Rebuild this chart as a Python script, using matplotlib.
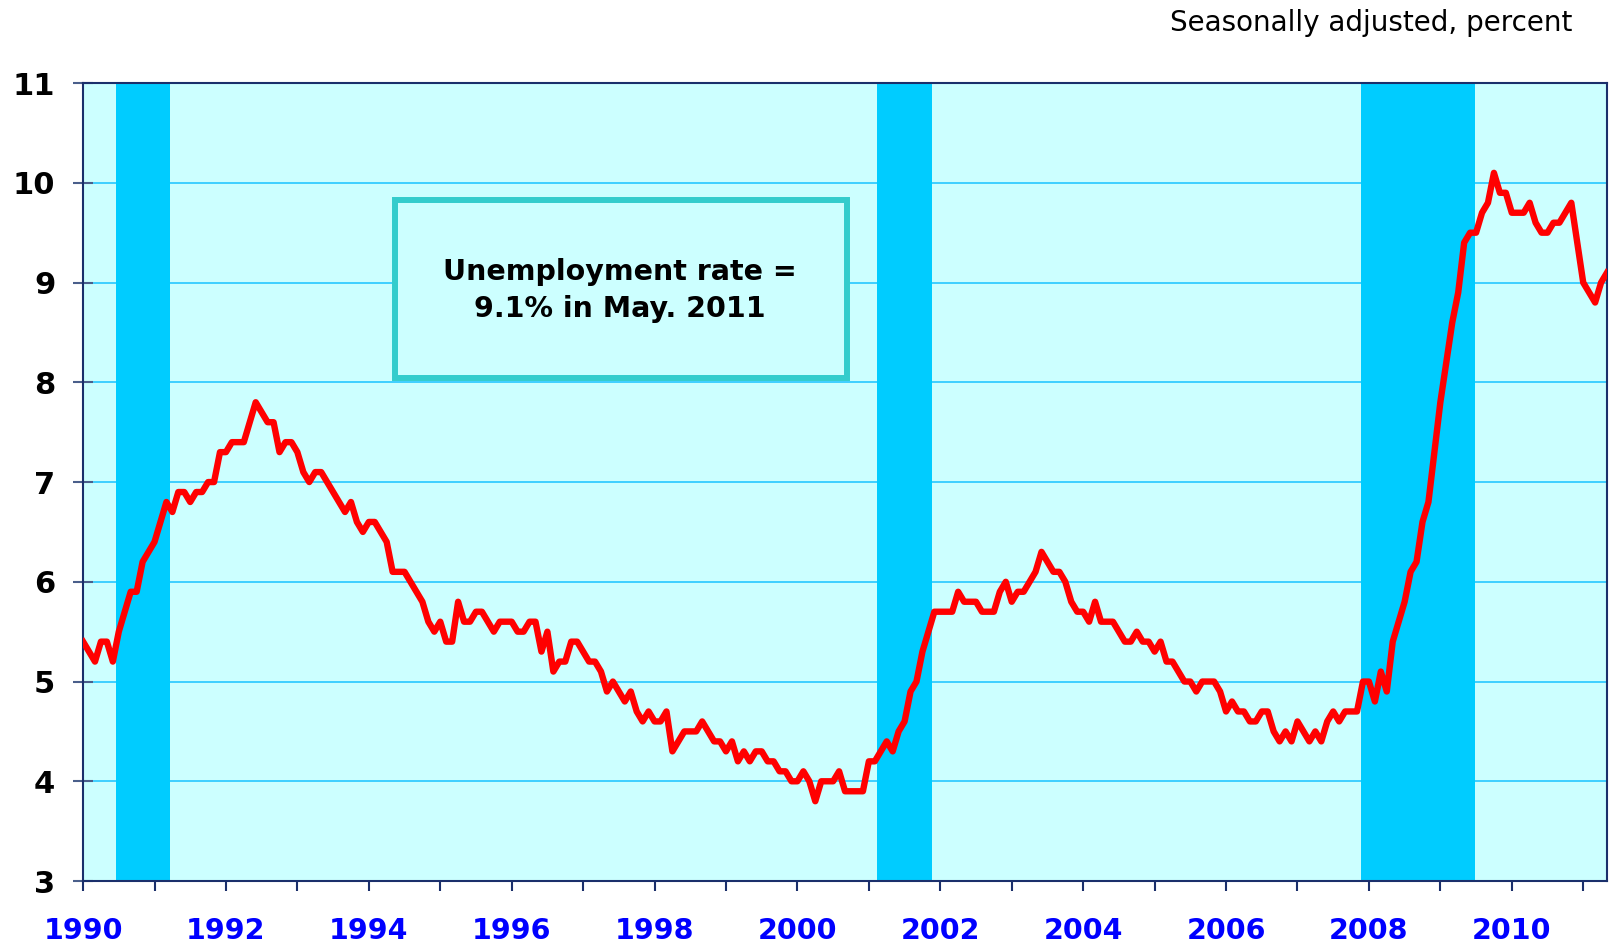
import numpy as np
import matplotlib
matplotlib.use('Agg')
import matplotlib.pyplot as plt
from matplotlib.patches import Rectangle

# monthly unemployment rate, seasonally adjusted (percent), Jan 1990 .. May 2011
start_year = 1990
rate = [
    5.4, 5.3, 5.2, 5.4, 5.4, 5.2, 5.5, 5.7, 5.9, 5.9, 6.2, 6.3,   # 1990
    6.4, 6.6, 6.8, 6.7, 6.9, 6.9, 6.8, 6.9, 6.9, 7.0, 7.0, 7.3,   # 1991
    7.3, 7.4, 7.4, 7.4, 7.6, 7.8, 7.7, 7.6, 7.6, 7.3, 7.4, 7.4,   # 1992
    7.3, 7.1, 7.0, 7.1, 7.1, 7.0, 6.9, 6.8, 6.7, 6.8, 6.6, 6.5,   # 1993
    6.6, 6.6, 6.5, 6.4, 6.1, 6.1, 6.1, 6.0, 5.9, 5.8, 5.6, 5.5,   # 1994
    5.6, 5.4, 5.4, 5.8, 5.6, 5.6, 5.7, 5.7, 5.6, 5.5, 5.6, 5.6,   # 1995
    5.6, 5.5, 5.5, 5.6, 5.6, 5.3, 5.5, 5.1, 5.2, 5.2, 5.4, 5.4,   # 1996
    5.3, 5.2, 5.2, 5.1, 4.9, 5.0, 4.9, 4.8, 4.9, 4.7, 4.6, 4.7,   # 1997
    4.6, 4.6, 4.7, 4.3, 4.4, 4.5, 4.5, 4.5, 4.6, 4.5, 4.4, 4.4,   # 1998
    4.3, 4.4, 4.2, 4.3, 4.2, 4.3, 4.3, 4.2, 4.2, 4.1, 4.1, 4.0,   # 1999
    4.0, 4.1, 4.0, 3.8, 4.0, 4.0, 4.0, 4.1, 3.9, 3.9, 3.9, 3.9,   # 2000
    4.2, 4.2, 4.3, 4.4, 4.3, 4.5, 4.6, 4.9, 5.0, 5.3, 5.5, 5.7,   # 2001
    5.7, 5.7, 5.7, 5.9, 5.8, 5.8, 5.8, 5.7, 5.7, 5.7, 5.9, 6.0,   # 2002
    5.8, 5.9, 5.9, 6.0, 6.1, 6.3, 6.2, 6.1, 6.1, 6.0, 5.8, 5.7,   # 2003
    5.7, 5.6, 5.8, 5.6, 5.6, 5.6, 5.5, 5.4, 5.4, 5.5, 5.4, 5.4,   # 2004
    5.3, 5.4, 5.2, 5.2, 5.1, 5.0, 5.0, 4.9, 5.0, 5.0, 5.0, 4.9,   # 2005
    4.7, 4.8, 4.7, 4.7, 4.6, 4.6, 4.7, 4.7, 4.5, 4.4, 4.5, 4.4,   # 2006
    4.6, 4.5, 4.4, 4.5, 4.4, 4.6, 4.7, 4.6, 4.7, 4.7, 4.7, 5.0,   # 2007
    5.0, 4.8, 5.1, 4.9, 5.4, 5.6, 5.8, 6.1, 6.2, 6.6, 6.8, 7.3,   # 2008
    7.8, 8.2, 8.6, 8.9, 9.4, 9.5, 9.5, 9.7, 9.8, 10.1, 9.9, 9.9,  # 2009
    9.7, 9.7, 9.7, 9.8, 9.6, 9.5, 9.5, 9.6, 9.6, 9.7, 9.8, 9.4,   # 2010
    9.0, 8.9, 8.8, 9.0, 9.1,                                      # 2011
]

# recessions (decimal years)
rec_start = [1990.46, 2001.12, 2007.89]
rec_end = [1991.21, 2001.88, 2009.48]

y_ticks = [3, 4, 5, 6, 7, 8, 9, 10, 11]
x_labels = ['1990', '1992', '1994', '1996', '1998', '2000', '2002', '2004', '2006', '2008', '2010']

t = start_year + np.arange(len(rate)) / 12.0

fig = plt.figure(figsize=(16.13, 9.44), dpi=100)
ax = fig.add_axes([0.0515, 0.0667, 0.9448, 0.8453])
ax.set_facecolor('#CCFFFF')
ax.set_axisbelow(True)

for a, b in zip(rec_start, rec_end):
    ax.axvspan(a, b, color='#00CCFF', zorder=1, lw=0)

ax.plot(t, rate, color='#FF0000', lw=4.6, solid_joinstyle='round', zorder=3)

ax.set_xlim(start_year, t[-1])
ax.set_ylim(3, 11)
ax.set_yticks(y_ticks)
ax.set_yticklabels([str(v) for v in y_ticks])
ax.set_xticks([int(s) for s in x_labels])
ax.set_xticklabels(x_labels)
ax.set_xticks(np.arange(1991, 2012, 2), minor=True)

ax.grid(axis='y', color='#33CCFF', lw=1.3)

for s in ax.spines.values():
    s.set_color('#1a2f6b')
    s.set_linewidth(1.5)

ax.tick_params(axis='y', direction='inout', length=14, width=1.5, color='#4a5f8b',
               labelsize=22, labelcolor='black', pad=13)
ax.tick_params(axis='x', which='both', direction='out', length=7, width=1.5, color='#1a2f6b')
ax.tick_params(axis='x', which='major', labelsize=20.5, labelcolor='#0000FF', pad=19)
for lab in ax.get_xticklabels() + ax.get_yticklabels():
    lab.set_fontweight('bold')

# annotation box
ax.add_patch(Rectangle((0.2047, 0.630), 0.2966, 0.223, transform=ax.transAxes,
                       facecolor='#CCFFFF', edgecolor='#33CCCC', lw=4.3, zorder=4))
ax.text(0.352, 0.740, 'Unemployment rate =\n9.1% in May. 2011', transform=ax.transAxes,
        ha='center', va='center', fontsize=20.5, fontweight='bold', linespacing=1.45, zorder=5)

fig.text(0.9746, 0.9756, 'Seasonally adjusted, percent', ha='right', va='center', fontsize=20)

fig.savefig('out.png', dpi=100)
